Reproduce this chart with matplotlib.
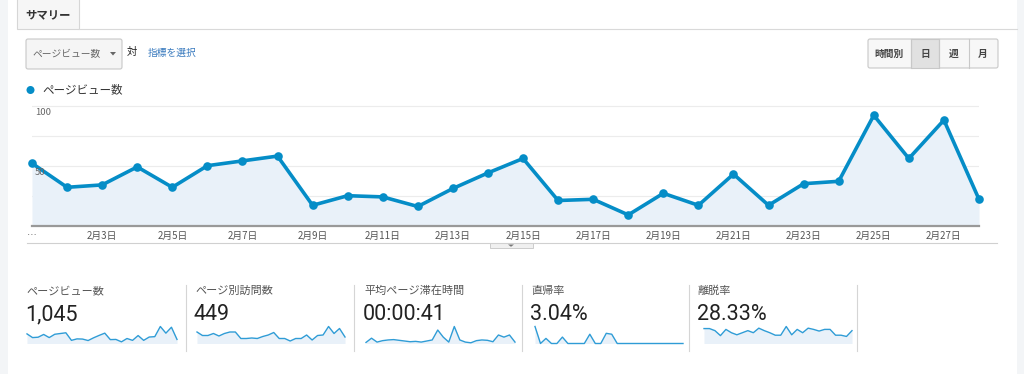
import matplotlib
matplotlib.use("Agg")
from matplotlib import pyplot as plt
from matplotlib.patches import Rectangle, FancyBboxPatch, Polygon, Circle

plt.rcParams['font.family'] = ['Noto Sans CJK JP', 'DejaVu Sans']

# %%
# daily page views, Feb 1 - Feb 28
days = list(range(1, 29))
pageviews = [52, 32, 34, 49, 32, 50, 54, 58, 17, 25, 24, 16, 31, 44,
             56, 21, 22, 9, 27, 17, 43, 17, 35, 37, 92, 56, 88, 22]
tick_days = [1, 3, 5, 7, 9, 11, 13, 15, 17, 19, 21, 23, 25, 27]
tick_labels = ['…'] + ['2月%d日' % d for d in tick_days[1:]]
series_name = 'ページビュー数'

# summary tiles
tile_names = ['ページビュー数', 'ページ別訪問数', '平均ページ滞在時間', '直帰率', '離脱率']
tile_values = ['1,045', '449', '00:00:41', '3.04%', '28.33%']
unique_views = [23, 16, 16, 20, 15, 20, 23, 23, 10, 10, 11, 10, 14, 17,
                22, 10, 10, 5, 10, 10, 17, 7, 16, 17, 34, 20, 30, 13]
avg_time = [6, 30, 8, 16, 20, 22, 18, 14, 10, 12, 8, 14, 20, 76,
            36, 8, 96, 20, 8, 4, 16, 20, 18, 10, 48, 36, 48, 8]
bounce_rate = [16.7, 0, 5.0, 0, 0, 6.3, 0, 0, 0, 0, 9.1, 0, 0, 10.0,
               9.1, 0, 0, 0, 0, 0, 0, 0, 0, 0, 0, 0, 0, 0]
exit_rate = [36, 36, 31, 19, 34, 26, 21, 26, 31, 26, 37, 31, 26, 20,
             20, 41, 21, 34, 26, 37, 34, 30, 34, 34, 20, 20, 17, 31]
sparks = [pageviews, unique_views, avg_time, bounce_rate, exit_rate]

# %%
W, H = 1024, 374
BLUE = '#058dc7'
FILL = '#e9f1f9'
fig = plt.figure(figsize=(W / 100, H / 100), dpi=100)
fig.patch.set_facecolor('white')


def px_axes(x0, y0, x1, y1):
    return fig.add_axes([x0 / W, 1 - y1 / H, (x1 - x0) / W, (y1 - y0) / H])


# page chrome drawn in pixel coordinates
ui = fig.add_axes([0, 0, 1, 1])
ui.set_xlim(0, W)
ui.set_ylim(H, 0)
ui.axis('off')

ui.add_patch(Rectangle((0, 0), 8, H, fc='#f3f5f7', ec='none'))
ui.add_patch(Rectangle((1017, 0), 7, H, fc='#f3f5f7', ec='none'))
ui.plot([79, 1017], [29, 29], color='#d9d9d9', lw=0.8)
ui.add_patch(Rectangle((17, -2), 62, 31, fc='#f6f6f6', ec='#d6d6d6', lw=0.8))
ui.text(25, 15, 'サマリー', fontsize=8.2, fontweight='bold', color='#333333', va='center')

# metric dropdown
ui.add_patch(FancyBboxPatch((26, 39), 96, 30, boxstyle='round,pad=0,rounding_size=2',
                            fc='#f5f5f5', ec='#c8c8c8', lw=0.8))
ui.text(32, 54, 'ページビュー数', fontsize=7, color='#666666', va='center')
ui.add_patch(Polygon([[110, 52], [116, 52], [113, 55.5]], closed=True, fc='#666666', ec='none'))
ui.text(127, 52, '対', fontsize=7.5, color='#222222', va='center')
ui.text(148, 53, '指標を選択', fontsize=7, color='#3a7bbf', va='center')

# period buttons
ui.add_patch(FancyBboxPatch((868, 39), 130, 29, boxstyle='round,pad=0,rounding_size=2',
                            fc='#f7f7f7', ec='#c8c8c8', lw=0.8))
ui.add_patch(Rectangle((911, 39), 28, 29, fc='#e1e1e1', ec='#c8c8c8', lw=0.8))
for xd in [911, 939, 969]:
    ui.plot([xd, xd], [39, 68], color='#c8c8c8', lw=0.8)
for label, xc in [('時間別', 889), ('日', 925), ('週', 954), ('月', 983)]:
    ui.text(xc, 54, label, fontsize=7, color='#444444', ha='center', va='center',
            fontweight='bold')

# legend
ui.add_patch(Circle((30.5, 90), 4, fc=BLUE, ec='none'))
ui.text(42, 90, series_name, fontsize=8.3, color='#333333', va='center')

# line under x labels and the expander tab
ui.plot([27, 997], [243, 243], color='#d0d0d0', lw=0.8)
ui.add_patch(Rectangle((490, 243), 43, 5, fc='#f0f0f0', ec='#cccccc', lw=0.7))
ui.add_patch(Polygon([[508, 244.5], [514, 244.5], [511, 246.8]], closed=True,
                     fc='#777777', ec='none'))

# %%
# main line chart
ax = px_axes(32, 95.7, 979, 225.7)
ax.set_facecolor('none')
x = list(range(len(days)))
ax.fill_between(x, pageviews, 0, color=FILL, lw=0, zorder=1)
ax.plot(x, pageviews, color=BLUE, lw=2.6, zorder=3, clip_on=False,
        marker='o', markersize=6.2, markeredgewidth=0)
ax.set_xlim(0, len(days) - 1)
ax.set_ylim(0, 130 / 1.2)
ax.set_yticks([25, 50, 75, 100])
ax.set_yticklabels([])
ax.grid(axis='y', color='#ececec', lw=0.8, zorder=0)
ax.set_axisbelow(True)
ax.set_xticks([d - 1 for d in tick_days])
ax.set_xticklabels(tick_labels)
ax.tick_params(axis='x', length=0, pad=4, labelsize=7, colors='#555555')
ax.tick_params(axis='y', length=0)
for s in ['top', 'left', 'right']:
    ax.spines[s].set_visible(False)
ax.spines['bottom'].set_color('#999999')
ax.spines['bottom'].set_linewidth(1.6)
for v in [100, 50]:
    ax.annotate(str(v), xy=(0, v), xytext=(3, -7), textcoords='offset pixels',
                fontsize=6.8, color='#666666', va='center', ha='left', zorder=4)

# %%
# summary tiles with sparklines
tile_x = [26, 195, 364, 531, 698]
spark_x = [(27, 177), (197, 345), (366, 515), (535, 683), (704, 852)]
for i in range(5):
    ui.text(tile_x[i], 291, tile_names[i], fontsize=8, color='#555555', va='center')
    ui.text(tile_x[i] - 1, 315, tile_values[i], fontsize=15.5, color='#222222',
            va='center', family=['Roboto', 'DejaVu Sans'])
    sx = px_axes(spark_x[i][0], 326.5, spark_x[i][1], 343.5)
    sx.set_facecolor('none')
    sx.fill_between(x, sparks[i], 0, color=FILL, lw=0)
    sx.plot(x, sparks[i], color='#2f9cd6', lw=1.0, clip_on=False)
    sx.set_xlim(0, len(days) - 1)
    sx.set_ylim(0, max(sparks[i]))
    sx.axis('off')
for xd in [186, 354, 522, 689, 857]:
    ui.plot([xd, xd], [285, 351], color='#d5d5d5', lw=0.8)

plt.savefig('out.png', dpi=100)
